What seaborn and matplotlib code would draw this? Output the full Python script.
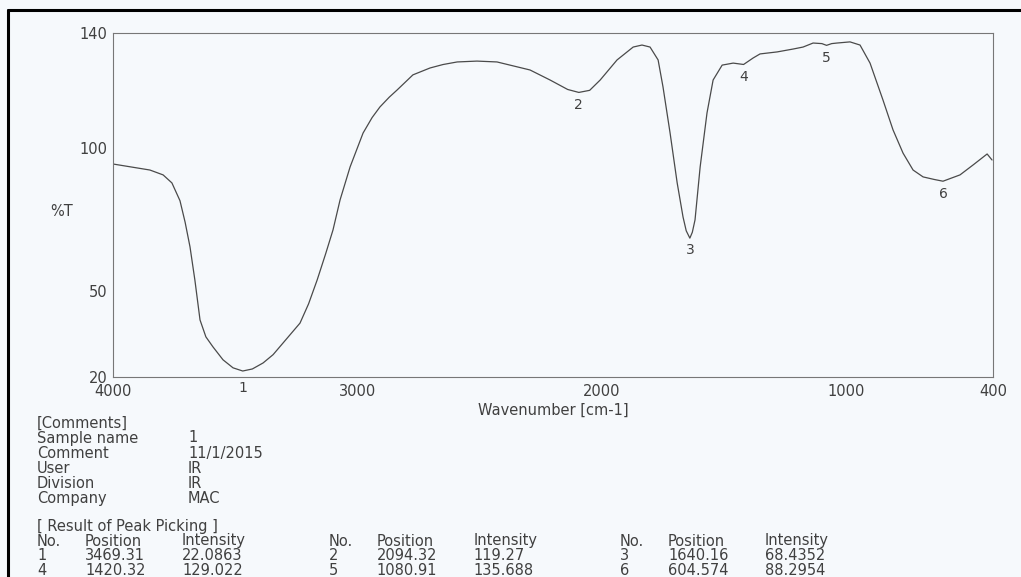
import matplotlib
matplotlib.use("Agg")
import matplotlib.pyplot as plt
import seaborn as sns
from matplotlib.lines import Line2D

# IR spectrum (wavenumber cm-1, %T)
wavenumber = [4000, 3849, 3795, 3759, 3726, 3705, 3685, 3665, 3644, 3620,
              3591, 3550, 3509, 3469.31, 3430, 3386, 3345, 3304, 3235, 3200,
              3165, 3130, 3100, 3071, 3030, 2977, 2940, 2908, 2870, 2838,
              2773, 2703, 2650, 2592, 2511, 2429, 2376, 2294, 2212, 2140,
              2094.32, 2050, 2007, 1938, 1872, 1836, 1803, 1770, 1750, 1721,
              1692, 1668, 1655, 1640.16, 1630, 1619, 1598, 1570, 1545, 1508,
              1463, 1420.32, 1381, 1353, 1283, 1218, 1177, 1136, 1100, 1080.91,
              1060, 1038, 985, 944, 903, 850, 809, 768, 727, 686,
              640, 604.574, 535, 481, 424, 404]
transmittance = [94.3, 92.2, 90.5, 87.7, 81.5, 74.0, 65.4, 53.8, 39.9, 34.0,
                 30.5, 26.0, 23.2, 22.09, 22.8, 24.9, 27.8, 31.9, 38.8, 45.5,
                 53.8, 63.0, 71.3, 81.8, 93.3, 105.1, 110.5, 114.2, 117.6, 120.1,
                 125.4, 127.8, 129.0, 129.9, 130.2, 129.9, 128.8, 127.1, 123.6, 120.3,
                 119.27, 120.0, 123.6, 130.6, 135.1, 135.8, 135.1, 130.6, 121.2, 105.1,
                 87.7, 75.8, 71.0, 68.44, 70.5, 74.8, 93.3, 112.1, 123.6, 128.8,
                 129.5, 129.02, 131.3, 132.7, 133.4, 134.4, 135.1, 136.5, 136.3, 135.69,
                 136.3, 136.5, 136.9, 135.8, 129.5, 116.6, 106.2, 98.1, 92.2, 89.8,
                 88.9, 88.30, 90.5, 94.0, 97.8, 95.7]

# peak picking result
peak_no = [1, 2, 3, 4, 5, 6]
peak_pos = [3469.31, 2094.32, 1640.16, 1420.32, 1080.91, 604.574]
peak_int = [22.0863, 119.27, 68.4352, 129.022, 135.688, 88.2954]

comment_keys = ["Sample name", "Comment", "User", "Division", "Company"]
comment_vals = ["1", "11/1/2015", "IR", "IR", "MAC"]

x_major = [4000, 3000, 2000, 1000, 400]
x_minor = [3500, 2500, 1500, 500]
y_major = [20, 50, 100, 140]
y_minor = [25, 75, 125]

W, H = 1021, 577
bg = "#f6f9fc"
txt = "#404040"
fs = 10.5

sns.set_style("white")
plt.rcParams["font.family"] = ["DejaVu Sans"]

fig = plt.figure(figsize=(W / 100, H / 100), dpi=100, facecolor=bg)
ax = fig.add_axes([113 / W, 1 - 377 / H, 880 / W, 344 / H])
ax.set_facecolor(bg)

sns.lineplot(x=wavenumber, y=transmittance, ax=ax, color="#4a4a4a",
             linewidth=0.9, sort=False, estimator=None)

ax.set_xlim(4000, 400)
ax.set_ylim(20, 140)
ax.set_xticks(x_major)
ax.set_xticks(x_minor, minor=True)
ax.set_yticks(y_major)
ax.set_yticks(y_minor, minor=True)
ax.tick_params(which="both", direction="in", color="#777777", width=0.8,
               length=6, labelsize=fs, labelcolor=txt)
ax.tick_params(axis="x", pad=5)
ax.tick_params(axis="y", pad=4)
for s in ax.spines.values():
    s.set_color("#777777")
    s.set_linewidth(0.8)

ax.set_xlabel("Wavenumber [cm-1]", fontsize=fs, color=txt)
ax.xaxis.set_label_coords(0.5, -0.075)
ax.set_ylabel("%T", fontsize=fs, color=txt, rotation=0, ha="center", va="center")
ax.yaxis.set_label_coords(-0.058, 0.48)

# peak numbers under each peak
for n, p, t in zip(peak_no, peak_pos, peak_int):
    ly = t - 4.3 if t - 4.3 > 22 else 16.2
    ax.text(p, ly, str(n), ha="center", va="center", fontsize=fs - 0.5,
            color=txt, clip_on=False)


def put(x, y, s, **kw):
    fig.text(x / W, 1 - y / H, s, fontsize=fs, color=txt, va="center", **kw)


put(37, 423, "[Comments]")
for i, (k, v) in enumerate(zip(comment_keys, comment_vals)):
    y = 438 + i * 15.2
    put(37, y, k)
    put(188, y, v)

put(37, 527, "[ Result of Peak Picking ]")
for g in range(3):
    x0 = 37 + g * 291.5
    put(x0, 541, "No.")
    put(x0 + 48, 541, "Position")
    put(x0 + 145, 541, "Intensity")
for i, (n, p, t) in enumerate(zip(peak_no, peak_pos, peak_int)):
    x0 = 37 + (i % 3) * 291.5
    y = 556 + (i // 3) * 14.3
    put(x0, y, str(n))
    put(x0 + 48, y, f"{p:.6g}")
    put(x0 + 145, y, f"{t:.6g}")

# scan frame edges (top and left)
fig.add_artist(Line2D([8 / W, 1], [1 - 10 / H, 1 - 10 / H], color="black",
                      linewidth=2.2, transform=fig.transFigure))
fig.add_artist(Line2D([8 / W, 8 / W], [0, 1 - 10 / H], color="black",
                      linewidth=2.2, transform=fig.transFigure))

fig.savefig("out.png", dpi=100, facecolor=bg)
